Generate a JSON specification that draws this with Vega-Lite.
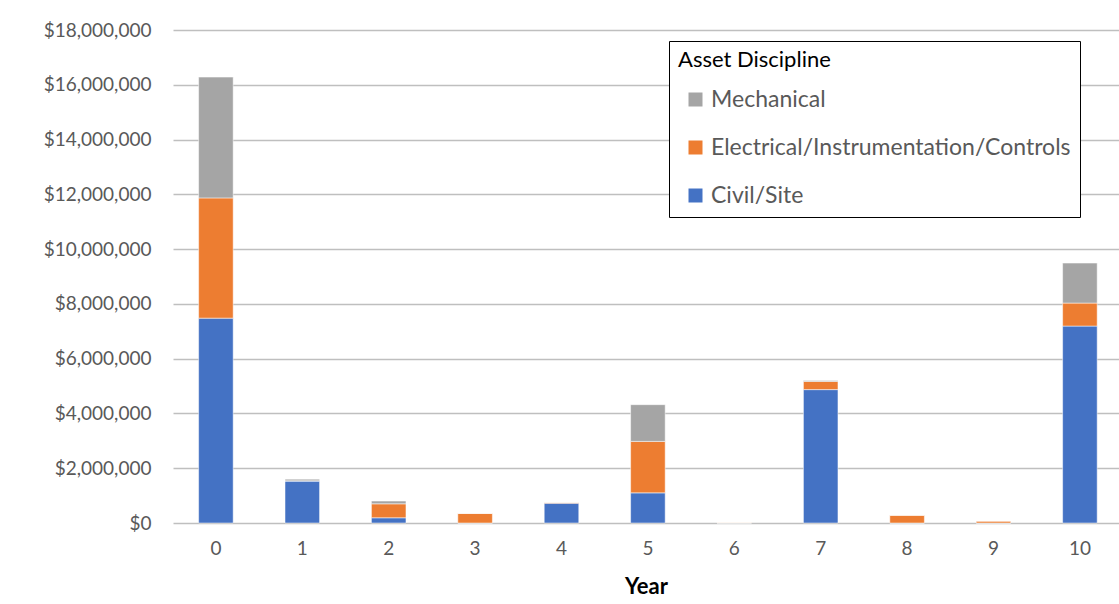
{
  "$schema": "https://vega.github.io/schema/vega-lite/v6.json",
  "autosize": "none",
  "padding": {"left": 173, "top": 30, "right": 0, "bottom": 81},
  "width": 946,
  "height": 493,
  "background": "white",
  "config": {
    "view": {"stroke": null},
    "font": "Lato"
  },
  "data": {
    "values": [
      {"year": "0", "discipline": "Civil/Site", "o": 1, "cost": 7480000},
      {"year": "0", "discipline": "Electrical/Instrumentation/Controls", "o": 2, "cost": 4390000},
      {"year": "0", "discipline": "Mechanical", "o": 3, "cost": 4410000},
      {"year": "1", "discipline": "Civil/Site", "o": 1, "cost": 1530000},
      {"year": "1", "discipline": "Electrical/Instrumentation/Controls", "o": 2, "cost": 10000},
      {"year": "1", "discipline": "Mechanical", "o": 3, "cost": 60000},
      {"year": "2", "discipline": "Civil/Site", "o": 1, "cost": 190000},
      {"year": "2", "discipline": "Electrical/Instrumentation/Controls", "o": 2, "cost": 510000},
      {"year": "2", "discipline": "Mechanical", "o": 3, "cost": 100000},
      {"year": "3", "discipline": "Civil/Site", "o": 1, "cost": 0},
      {"year": "3", "discipline": "Electrical/Instrumentation/Controls", "o": 2, "cost": 350000},
      {"year": "3", "discipline": "Mechanical", "o": 3, "cost": 0},
      {"year": "4", "discipline": "Civil/Site", "o": 1, "cost": 720000},
      {"year": "4", "discipline": "Electrical/Instrumentation/Controls", "o": 2, "cost": 30000},
      {"year": "4", "discipline": "Mechanical", "o": 3, "cost": 0},
      {"year": "5", "discipline": "Civil/Site", "o": 1, "cost": 1100000},
      {"year": "5", "discipline": "Electrical/Instrumentation/Controls", "o": 2, "cost": 1880000},
      {"year": "5", "discipline": "Mechanical", "o": 3, "cost": 1340000},
      {"year": "6", "discipline": "Civil/Site", "o": 1, "cost": 0},
      {"year": "6", "discipline": "Electrical/Instrumentation/Controls", "o": 2, "cost": 20000},
      {"year": "6", "discipline": "Mechanical", "o": 3, "cost": 0},
      {"year": "7", "discipline": "Civil/Site", "o": 1, "cost": 4870000},
      {"year": "7", "discipline": "Electrical/Instrumentation/Controls", "o": 2, "cost": 300000},
      {"year": "7", "discipline": "Mechanical", "o": 3, "cost": 30000},
      {"year": "8", "discipline": "Civil/Site", "o": 1, "cost": 0},
      {"year": "8", "discipline": "Electrical/Instrumentation/Controls", "o": 2, "cost": 280000},
      {"year": "8", "discipline": "Mechanical", "o": 3, "cost": 0},
      {"year": "9", "discipline": "Civil/Site", "o": 1, "cost": 0},
      {"year": "9", "discipline": "Electrical/Instrumentation/Controls", "o": 2, "cost": 70000},
      {"year": "9", "discipline": "Mechanical", "o": 3, "cost": 0},
      {"year": "10", "discipline": "Civil/Site", "o": 1, "cost": 7190000},
      {"year": "10", "discipline": "Electrical/Instrumentation/Controls", "o": 2, "cost": 840000},
      {"year": "10", "discipline": "Mechanical", "o": 3, "cost": 1460000}
    ]
  },
  "mark": {"type": "bar", "stroke": "white", "strokeWidth": 0.5},
  "encoding": {
    "x": {
      "field": "year",
      "type": "ordinal",
      "sort": ["0","1","2","3","4","5","6","7","8","9","10"],
      "scale": {"paddingInner": 0.6, "paddingOuter": 0.2745, "align": 0.54},
      "axis": {
        "title": "Year",
        "titleFont": "Lato",
        "titleFontSize": 22,
        "titleFontWeight": "bold",
        "titleColor": "#000000",
        "titlePadding": 18,
        "labelAngle": 0,
        "labelFontSize": 19,
        "labelColor": "#595959",
        "labelPadding": 16,
        "ticks": false,
        "domain": false
      }
    },
    "y": {
      "field": "cost",
      "type": "quantitative",
      "stack": "zero",
      "scale": {"domain": [0, 18000000], "nice": false},
      "axis": {
        "title": null,
        "values": [0, 2000000, 4000000, 6000000, 8000000, 10000000, 12000000, 14000000, 16000000, 18000000],
        "format": "$,.0f",
        "labelFontSize": 19,
        "labelColor": "#595959",
        "labelPadding": 22,
        "ticks": false,
        "domain": false,
        "grid": true,
        "gridColor": "#bfbfbf",
        "gridWidth": 1.5
      }
    },
    "color": {
      "field": "discipline",
      "type": "nominal",
      "scale": {
        "domain": ["Mechanical", "Electrical/Instrumentation/Controls", "Civil/Site"],
        "range": ["#a5a5a5", "#ed7d31", "#4472c4"]
      },
      "legend": {
        "title": "Asset Discipline",
        "orient": "none",
        "legendX": 496,
        "legendY": 11,
        "strokeColor": "#000000",
        "fillColor": "white",
        "padding": 9,
        "titleFontSize": 22,
        "titleFontWeight": "normal",
        "titleColor": "#000000",
        "titlePadding": 16,
        "labelFontSize": 23,
        "labelColor": "#595959",
        "labelLimit": 500,
        "labelOffset": 4,
        "symbolType": "square",
        "symbolSize": 196,
        "symbolStrokeWidth": 0,
        "symbolOffset": 6,
        "rowPadding": 24
      }
    },
    "order": {"field": "o", "type": "quantitative", "sort": "ascending"}
  }
}
